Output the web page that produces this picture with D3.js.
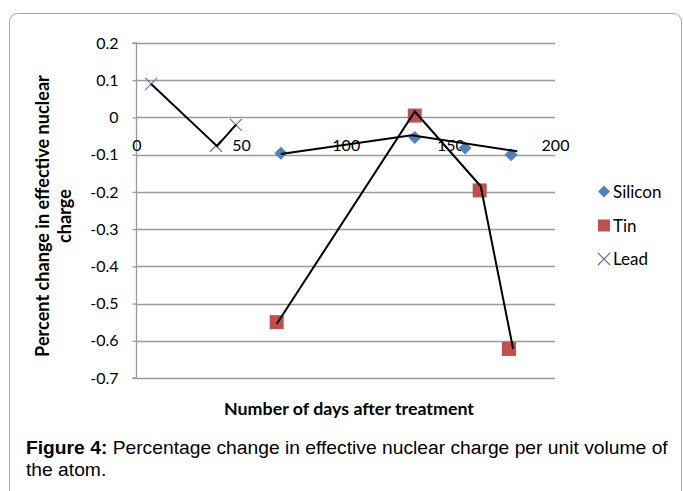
<!DOCTYPE html>
<html><head><meta charset="utf-8">
<script src="https://cdn.jsdelivr.net/npm/d3@7"></script>
<style>body{margin:0;background:#fff}svg{display:block}</style>
</head><body>
<svg id="c" width="683" height="491"></svg>
<script>
// ---- data ----
const xTicks = [0, 50, 100, 150, 200];
const yTicks = [0.2, 0.1, 0, -0.1, -0.2, -0.3, -0.4, -0.5, -0.6, -0.7];
const yTickLabels = ["0.2","0.1","0","-0.1","-0.2","-0.3","-0.4","-0.5","-0.6","-0.7"];
const seriesNames = ["Silicon", "Tin", "Lead"];
const siliconX = [69, 133, 157, 179];
const siliconY = [-0.096, -0.054, -0.082, -0.100];
const tinX = [67, 133, 164, 178];
const tinY = [-0.55, 0.005, -0.196, -0.622];
const leadX = [7, 38, 47.5];
const leadY = [0.09, -0.076, -0.02];
// black connecting lines as drawn in the figure
const siliconLineX = [69, 131.5, 182];
const siliconLineY = [-0.098, -0.048, -0.091];
const tinLineX = [67, 133, 164.5, 180];
const tinLineY = [-0.555, 0.016, -0.185, -0.622];
const leadLineX = [7, 38.5, 47.5];
const leadLineY = [0.09, -0.077, -0.02];
const xTitle = "Number of days after treatment";
const yTitle = ["Percent change in effective nuclear", "charge"];
const captionBold = "Figure 4:";
const captionLine1 = " Percentage change in effective nuclear charge per unit volume of";
const captionLine2 = "the atom.";

const colors = {Silicon: "#4F81BD", Tin: "#C0504D", Lead: "#8064A2"};
const svg = d3.select("#c");
const x = d3.scaleLinear().domain([0, 200]).range([136.5, 555]);
const y = d3.scaleLinear().domain([-0.7, 0.2]).range([378, 43]);
const tickFont = "Lato, 'Open Sans', sans-serif";

function fitWidth(sel, target) {
  const n = sel.node();
  const fs = parseFloat(sel.attr("font-size"));
  const w = n.getComputedTextLength();
  sel.attr("font-size", (fs * target / w).toFixed(2));
}

// frame
svg.append("rect").attr("x", 9.5).attr("y", 13.5).attr("width", 672).attr("height", 520)
  .attr("rx", 8).attr("fill", "none").attr("stroke", "#a6a6a6").attr("stroke-width", 1);

// gridlines
svg.append("g").selectAll("line").data(yTicks).join("line")
  .attr("x1", x(0)).attr("x2", x(200))
  .attr("y1", d => Math.round(y(d)) + 0.5).attr("y2", d => Math.round(y(d)) + 0.5)
  .attr("stroke", "#9a9a9a").attr("stroke-width", 1.3);

// y axis
const yAxis = d3.axisLeft(y).tickValues(yTicks).tickSize(4).tickPadding(14)
  .tickFormat((d, i) => yTickLabels[i]);
const gy = svg.append("g").attr("transform", `translate(${x(0)},0)`).call(yAxis);
gy.select(".domain").attr("stroke", "#9a9a9a").attr("stroke-width", 1.3).attr("d", `M-4,${y(0.2)}H0V${y(-0.7)}H-4`);
gy.selectAll(".tick line").attr("stroke", "#9a9a9a").attr("stroke-width", 1.3);
gy.selectAll("text").attr("font-family", tickFont).attr("font-size", 16).attr("fill", "#000");

// x axis labels (axis crosses at 0)
const xAxis = d3.axisBottom(x).tickValues(xTicks).tickSize(0).tickPadding(22).tickFormat(d3.format("d"));
const gx = svg.append("g").attr("transform", `translate(0,${y(0)})`).call(xAxis);
gx.select(".domain").remove();
gx.selectAll("text").attr("font-family", tickFont).attr("font-size", 16).attr("fill", "#000");

// markers
function diamond(g, cx, cy, r) {
  g.append("path").attr("d", `M${cx},${cy - r}L${cx + r},${cy}L${cx},${cy + r}L${cx - r},${cy}Z`)
    .attr("fill", colors.Silicon);
}
function square(g, cx, cy, s) {
  g.append("rect").attr("x", cx - s / 2).attr("y", cy - s / 2).attr("width", s).attr("height", s)
    .attr("fill", colors.Tin);
}
function cross(g, cx, cy, r) {
  g.append("path").attr("d", `M${cx - r},${cy - r}L${cx + r},${cy + r}M${cx - r},${cy + r}L${cx + r},${cy - r}`)
    .attr("stroke", colors.Lead).attr("stroke-width", 1.2).attr("fill", "none");
}
const mk = svg.append("g");
siliconX.forEach((v, i) => diamond(mk, x(v), y(siliconY[i]), 6.5));
tinX.forEach((v, i) => square(mk, x(v), y(tinY[i]), 14));
leadX.forEach((v, i) => cross(mk, x(v), y(leadY[i]), 6));

// connecting lines (drawn over markers)
const line = d3.line().x(d => x(d[0])).y(d => y(d[1]));
const lineSets = [[siliconLineX, siliconLineY], [tinLineX, tinLineY], [leadLineX, leadLineY]];
lineSets.forEach(([xs, ys]) => {
  svg.append("path").datum(xs.map((v, i) => [v, ys[i]])).attr("d", line)
    .attr("fill", "none").attr("stroke", "#000").attr("stroke-width", 2);
});

// legend
const lg = svg.append("g");
const legY = [191.5, 225.5, 259];
seriesNames.forEach((n, i) => {
  if (n === "Silicon") diamond(lg, 604, legY[i], 6);
  if (n === "Tin") square(lg, 604, legY[i], 12);
  if (n === "Lead") cross(lg, 604, legY[i], 6);
  lg.append("text").attr("x", 613).attr("y", legY[i]).attr("dy", "0.36em")
    .attr("font-family", tickFont).attr("font-size", 17).text(n);
});

// axis titles
const xt = svg.append("text").attr("x", 349).attr("y", 415).attr("text-anchor", "middle")
  .attr("font-family", tickFont).attr("font-weight", "bold").attr("font-size", 15).text(xTitle);
fitWidth(xt, 250);
const yt1 = svg.append("text").attr("transform", "translate(0,216) rotate(-90)")
  .attr("x", 0).attr("y", 49).attr("text-anchor", "middle").attr("font-family", tickFont)
  .attr("font-weight", "bold").attr("font-size", 15).text(yTitle[0]);
fitWidth(yt1, 282);
svg.append("text").attr("transform", "translate(0,216) rotate(-90)")
  .attr("x", 0).attr("y", 71).attr("text-anchor", "middle").attr("font-family", tickFont)
  .attr("font-weight", "bold").attr("font-size", yt1.attr("font-size")).text(yTitle[1]);

// caption
const cap = svg.append("text").attr("x", 26).attr("y", 454)
  .attr("font-family", "'Liberation Sans', Arial, sans-serif").attr("font-size", 16).attr("fill", "#000");
cap.append("tspan").attr("font-weight", "bold").text(captionBold);
cap.append("tspan").text(captionLine1);
fitWidth(cap, 642);
svg.append("text").attr("x", 26).attr("y", 476)
  .attr("font-family", "'Liberation Sans', Arial, sans-serif").attr("font-size", cap.attr("font-size")).text(captionLine2);
</script>
</body></html>
